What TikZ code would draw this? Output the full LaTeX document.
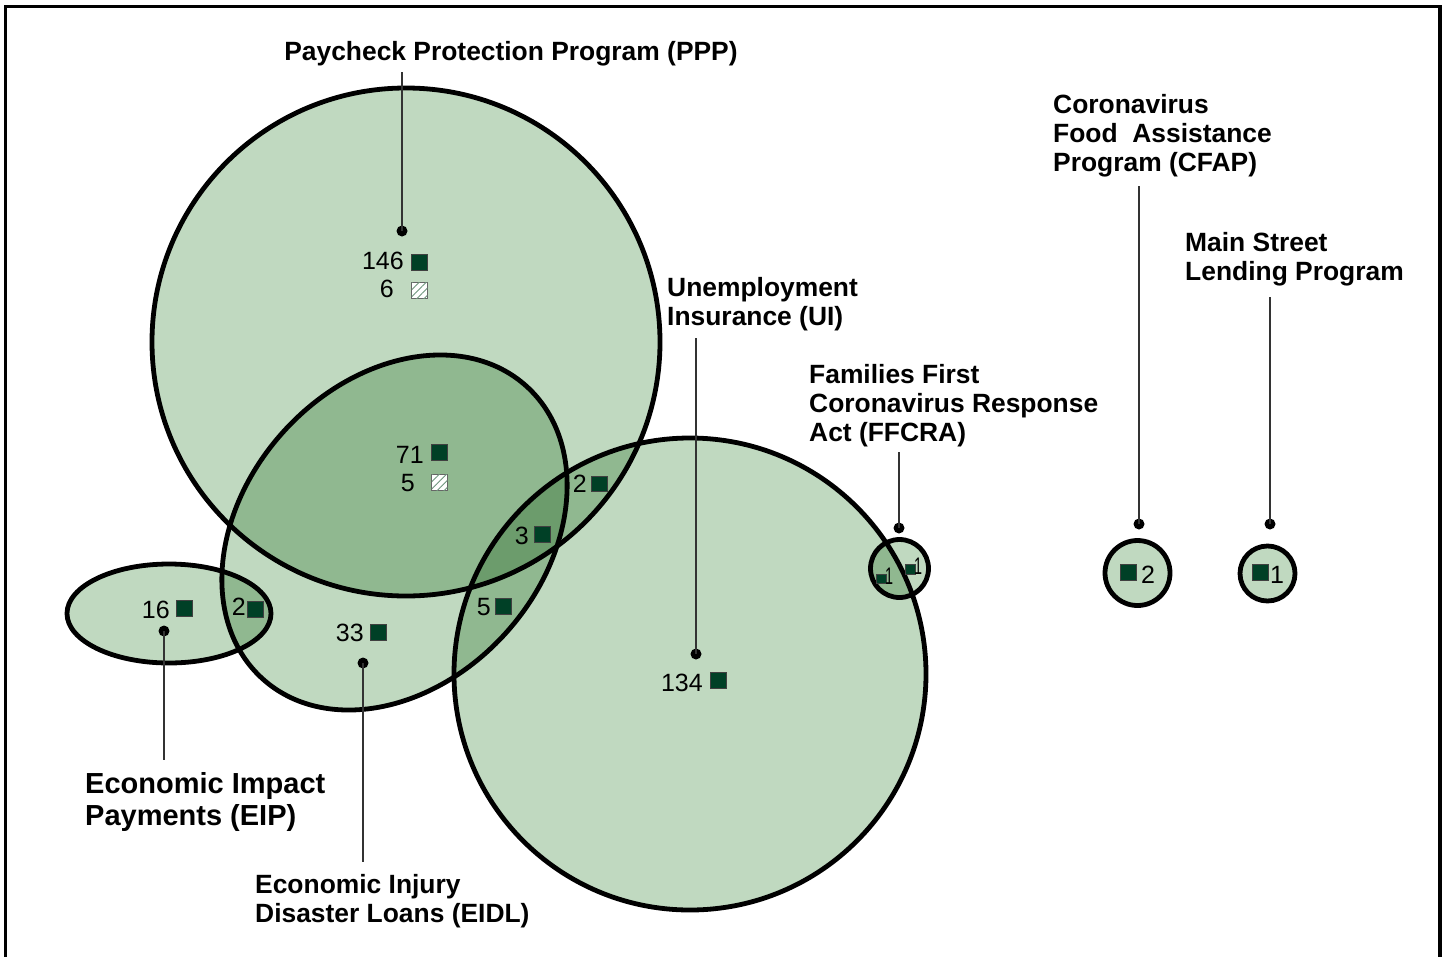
\documentclass[tikz,border=0pt]{standalone}
\usepackage{fontspec}
\setmainfont{Liberation Sans}
\usetikzlibrary{patterns.meta}
\definecolor{vgreen}{RGB}{192,217,192}
\definecolor{sqgreen}{RGB}{0,64,38}
\definecolor{hatchc}{RGB}{110,150,125}
\tikzset{
  outline/.style={draw=black, line width=4.8pt},
  vfill/.style={fill=vgreen, blend mode=multiply},
  lbl/.style={font=\fontsize{26.4}{29}\selectfont\bfseries, align=left, inner sep=0pt, anchor=north west},
  biglbl/.style={font=\fontsize{29}{32}\selectfont\bfseries, align=left, inner sep=0pt, anchor=north west},
  num/.style={font=\fontsize{25}{25}\selectfont, inner sep=0pt, anchor=base east},
  numr/.style={font=\fontsize{25}{25}\selectfont, inner sep=0pt, anchor=base west},
  tiny1/.style={font=\fontsize{24}{24}\selectfont, inner sep=0pt, anchor=base west},
  sq/.style={draw=black!75, fill=sqgreen, line width=0.8pt, minimum size=15.5pt, inner sep=0pt},
  smsq/.style={draw=black!75, fill=sqgreen, line width=0.6pt, minimum size=9.5pt, inner sep=0pt},
  hsq/.style={draw=black!60, fill=white, line width=0.8pt, minimum size=15.5pt, inner sep=0pt,
    postaction={pattern={Lines[angle=45,distance=5pt,line width=0.9pt]}, pattern color=hatchc}},
  leader/.style={draw=black!80, line width=1.8pt},
  dot/.style={circle, fill=black, inner sep=0pt, minimum size=11pt},
}
\begin{document}
\begin{tikzpicture}[x=1pt,y=-1pt]
\useasboundingbox (0,0) rectangle (1445,956);
\fill[white] (0,0) rectangle (1445,956);
% frame
\draw[line width=3.2pt] (5.5,960) -- (5.5,6.5) -- (1440,6.5) -- (1440,960);

% fills (multiply)
\fill[vfill] (406,342) circle[radius=254pt];
\fill[vfill] (394.5,532.5) ellipse[x radius=197pt, y radius=150pt, rotate=48];
\fill[vfill] (690,674) circle[radius=236pt];
\fill[vfill] (169,613.5) ellipse[x radius=102pt, y radius=49.5pt];
\fill[vfill] (899.5,568.5) circle[radius=29pt];
\fill[vfill] (1137.5,573) circle[radius=32.5pt];
\fill[vfill] (1267.5,573.5) circle[radius=27.5pt];

% outlines
\draw[outline] (406,342) circle[radius=254pt];
\draw[outline] (394.5,532.5) ellipse[x radius=197pt, y radius=150pt, rotate=48];
\draw[outline] (690,674) circle[radius=236pt];
\draw[outline] (169,613.5) ellipse[x radius=102pt, y radius=49.5pt];
\draw[outline] (899.5,568.5) circle[radius=29pt];
\draw[outline] (1137.5,573) circle[radius=32.5pt];
\draw[outline] (1267.5,573.5) circle[radius=27.5pt];

% labels
\node[lbl, anchor=north] (pppL) at (511,41) {Paycheck Protection Program (PPP)};
\node[lbl] (uiL) at (667,277) {Unemployment\\Insurance (UI)};
\node[lbl] (ffL) at (809,364) {Families First\\Coronavirus Response\\Act (FFCRA)};
\node[lbl] (cfL) at (1053,94) {Coronavirus\\Food\ \ Assistance\\Program (CFAP)};
\node[lbl] (msL) at (1185,232) {Main Street\\Lending Program};
\node[lbl] (eidlL) at (255,874) {Economic Injury\\Disaster Loans (EIDL)};
\node[biglbl] (eipL) at (85,772) {Economic Impact\\Payments (EIP)};

% leader coordinates and dots
\coordinate (pppT) at (402,72);
\coordinate (uiT) at (696,338);
\coordinate (ffT) at (899,452);
\coordinate (cfT) at (1139,186);
\coordinate (msT) at (1270,297);
\coordinate (eipB) at (164,760);
\coordinate (eidlB) at (363,862);
\node[dot] (pppD) at (402,231) {};
\node[dot] (uiD) at (696,654) {};
\node[dot] (ffD) at (899,528) {};
\node[dot] (cfD) at (1139,524) {};
\node[dot] (msD) at (1270,524) {};
\node[dot] (eipD) at (164,631) {};
\node[dot] (eidlD) at (363,663) {};
\draw[leader] (pppT) -- (pppD.center);
\draw[leader] (uiT) -- (uiD.center);
\draw[leader] (ffT) -- (ffD.center);
\draw[leader] (cfT) -- (cfD.center);
\draw[leader] (msT) -- (msD.center);
\draw[leader] (eipD.center) -- (eipB);
\draw[leader] (eidlD.center) -- (eidlB);

% counts
\node[num] (n146) at (404,269) {146};
\node[sq] (s146) at (419.5,262.5) {};
\node[num] (n6) at (394,297) {6};
\node[hsq] (h6) at (419.5,290.5) {};
\node[num] (n71) at (424,463) {71};
\node[sq] (s71) at (439.5,452.5) {};
\node[num] (n5a) at (415,491) {5};
\node[hsq] (h5) at (439.5,482.5) {};
\node[num] (n2a) at (587,492) {2};
\node[sq] (s2a) at (599.5,484) {};
\node[num] (n3) at (529,544) {3};
\node[sq] (s3) at (542.5,534.5) {};
\node[num] (n5b) at (491,615) {5};
\node[sq] (s5b) at (503.5,606.5) {};
\node[num] (n16) at (170,618) {16};
\node[sq] (s16) at (184.5,608.5) {};
\node[num] (n2b) at (246,615) {2};
\node[sq] (s2b) at (255.5,609.5) {};
\node[num] (n33) at (364,641) {33};
\node[sq] (s33) at (378.5,632.5) {};
\node[num] (n134) at (703,691) {134};
\node[sq] (s134) at (718.5,680.5) {};
\node[sq] (scf) at (1128.5,572.5) {};
\node[numr] (ncf) at (1141,583) {2};
\node[sq] (sms) at (1260.5,572.5) {};
\node[numr] (nms) at (1270,583) {1};
\node[smsq] (sff1) at (881.5,579) {};
\node[tiny1] (nff1) at (885,584) {\scalebox{0.6}[1]{1}};
\node[smsq] (sff2) at (910.5,569.5) {};
\node[tiny1] (nff2) at (914,574) {\scalebox{0.6}[1]{1}};
\end{tikzpicture}
\end{document}
